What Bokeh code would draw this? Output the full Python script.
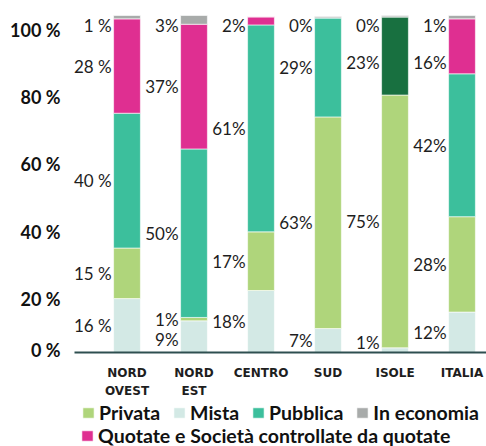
from bokeh.plotting import figure
from bokeh.models import ColumnDataSource, Legend, LegendItem, Range1d
from bokeh.core.properties import value
from bokeh.embed import file_html
from bokeh.resources import INLINE

# ---------------- data ----------------
regions = ["NORD\nOVEST", "NORD\nEST", "CENTRO", "SUD", "ISOLE", "ITALIA"]
mista = [16, 9.4, 18.4, 7.1, 1.4, 12]
privata = [15, 1, 17.4, 62.8, 75, 28.3]
pubblica = [40, 50, 61.4, 29.4, 23.2, 42.4]
quotate = [28, 37, 2.4, 0, 0, 16.3]
economia = [1, 2.6, 0, 0.4, 0.4, 1]
pct_sep = [" ", "", "", "", "", ""]
tick_values = [0, 20, 40, 60, 80, 100]
tick_labels = ["0 %", "20 %", "40 %", "60 %", "80 %", "100 %"]

stack_order = [("Mista", mista), ("Privata", privata), ("Pubblica", pubblica),
               ("Quotate e Società controllate da quotate", quotate),
               ("In economia", economia)]
colors = {"Privata": "#afd57b", "Mista": "#d3e9e5", "Pubblica": "#3cbf9c",
          "In economia": "#a8abaa",
          "Quotate e Società controllate da quotate": "#df2f91"}
isole_pubblica_color = "#187040"

# ---------------- layout ----------------
W, H = 486, 446
px_cat = 67.0
px_unit = 3.37
x_start = -126.5 / px_cat
x_end = x_start + W / px_cat
y_start = -(446 - 352) / px_unit
y_end = y_start + H / px_unit

p = figure(width=W, height=H, output_backend="svg", toolbar_location=None,
           x_range=Range1d(x_start, x_end), y_range=Range1d(y_start, y_end),
           min_border=0, min_border_left=0, min_border_right=0,
           min_border_top=0, min_border_bottom=0)
p.xaxis.visible = False
p.yaxis.visible = False
p.grid.visible = False
p.outline_line_color = None
p.background_fill_color = "white"
p.border_fill_color = "white"

xs = list(range(len(regions)))
bar_w = 0.4

# stacked bars
renderers = {}
bottoms = [0.0] * len(regions)
per_region = [[] for _ in regions]
for name, vals in stack_order:
    tops = [b + v for b, v in zip(bottoms, vals)]
    cols = [colors[name]] * len(regions)
    if name == "Pubblica":
        cols[regions.index("ISOLE")] = isole_pubblica_color
    src = ColumnDataSource(dict(x=xs, bottom=bottoms, top=tops, color=cols))
    r = p.vbar(x="x", width=bar_w, bottom="bottom", top="top", source=src,
               fill_color="color", line_color="white", line_width=0.6)
    renderers[name] = r
    for i, (b, v) in enumerate(zip(bottoms, vals)):
        if v > 0:
            per_region[i].append(((b + v / 2.0), v))
    bottoms = tops

# value labels (top to bottom, simple collision avoidance)
lx, ly, lt = [], [], []
for i, items in enumerate(per_region):
    items = sorted(items, key=lambda t: -t[0])
    prev = None
    first_small = False
    for k, (mid, v) in enumerate(items):
        y = mid
        if k == 0:
            y = min(y, 97)
            first_small = v < 3
        else:
            gap = 11 if (k == 1 and first_small) else 6
            y = min(y, prev - gap)
        y = max(y, 3)
        prev = y
        lx.append(i - bar_w / 2)
        ly.append(y)
        lt.append(f"{round(v)}{pct_sep[i]}%")
p.text(x=lx, y=ly, text=lt, text_align="right", text_baseline="middle",
       x_offset=-2, text_font=value("Lato"), text_font_size="17px",
       text_color="#1e1e1e")

# baseline
p.segment(x0=[x_start + 74 / px_cat], y0=[0], x1=[x_end], y1=[0],
          line_color="#2e4f50", line_width=2)

# y tick labels
p.text(x=[x_start] * len(tick_values), y=tick_values, text=tick_labels,
       x_offset=60, y_offset=[-3 if v == 0 else 14 for v in tick_values],
       text_align="right", text_baseline="middle",
       text_font=value("Lato"), text_font_style="bold",
       text_font_size="18px", text_color="#111111")

# category labels
p.text(x=xs, y=[0] * len(xs), text=regions, y_offset=13,
       text_align="center", text_baseline="top",
       text_font=value("DejaVu Sans"), text_font_style="bold",
       text_font_size="12px", text_line_height=1.3, text_color="#1e1e1e")

# legends
def make_legend(names, loc):
    items = [LegendItem(label=n, renderers=[renderers[n]], index=0) for n in names]
    lg = Legend(items=items, orientation="horizontal", location=loc,
                glyph_width=14, glyph_height=13, label_height=13,
                label_standoff=4, spacing=12, padding=0, margin=0,
                label_text_font="Lato", label_text_font_style="bold",
                label_text_font_size="19.5px", label_text_color="#111111",
                background_fill_alpha=0, border_line_color=None)
    return lg

p.add_layout(make_legend(["Privata", "Mista", "Pubblica", "In economia"], (81, 22)), "center")
p.add_layout(make_legend(["Quotate e Società controllate da quotate"], (80, -1)), "center")

open("out.html", "w").write(file_html(p, INLINE))
